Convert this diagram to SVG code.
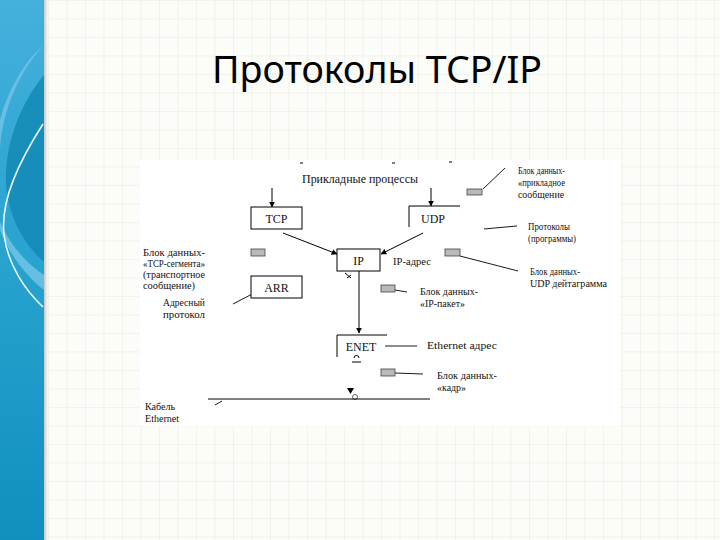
<svg xmlns="http://www.w3.org/2000/svg" width="720" height="540" viewBox="0 0 720 540">
<defs>
<pattern id="grid" x="48" y="0" width="18.5" height="18.5" patternUnits="userSpaceOnUse">
<path d="M0 0 H18.5 M0 0 V18.5" fill="none" stroke="#e9e9e2" stroke-width="1"/>
</pattern>
<linearGradient id="strip" x1="0" y1="0" x2="0" y2="1">
<stop offset="0" stop-color="#45b0dc"/>
<stop offset="0.5" stop-color="#27a2cf"/>
<stop offset="1" stop-color="#1190bd"/>
</linearGradient>
<linearGradient id="shadow" x1="0" y1="0" x2="1" y2="0">
<stop offset="0" stop-color="#9a9a9a" stop-opacity="0.8"/>
<stop offset="1" stop-color="#ffffff" stop-opacity="0"/>
</linearGradient>
<marker id="arr" viewBox="0 0 10 10" refX="9" refY="5" markerWidth="6" markerHeight="6" orient="auto" markerUnits="userSpaceOnUse">
<path d="M0 0 L10 5 L0 10 Z" fill="#000"/>
</marker>
<style>
.box{fill:#fff;stroke:#000;stroke-width:1}
.edge{fill:none;stroke:#000;stroke-width:1}
.lead{fill:none;stroke:#000;stroke-width:0.9}
.blk{fill:#b9b9b9;stroke:#444;stroke-width:0.8}
.t{font-family:"Liberation Serif","Times New Roman",serif;fill:#111}
.n{font-size:12px;text-anchor:middle}
.l{font-size:9.5px}
.title{font-family:"Noto Sans","Open Sans",sans-serif;font-size:38px;fill:#000;text-anchor:middle}
</style>
</defs>

<!-- slide background -->
<rect x="0" y="0" width="720" height="540" fill="#fcfcf8"/>
<rect x="48" y="0" width="672" height="540" fill="url(#grid)"/>
<rect x="43" y="0" width="7" height="540" fill="url(#shadow)"/>
<rect x="0" y="0" width="44" height="540" fill="url(#strip)"/>
<path d="M44 45 C20 70 2 110 0 150 L0 120 C8 90 25 60 44 45 Z" fill="#7cc8e8" opacity="0.7"/>
<path d="M44 75 C15 110 0 160 8 200 C15 230 30 250 44 262 Z" fill="#1389b5" opacity="0.85"/>
<path d="M0 230 C10 255 25 275 44 290 L44 275 C25 262 10 245 0 222 Z" fill="#8ed2ee" opacity="0.6"/>
<path d="M43 124 C20 160 0 200 4 235 C8 265 25 290 43 307" fill="none" stroke="#e8f8ff" stroke-width="1.6"/>

<text class="title" x="377" y="83" textLength="330" lengthAdjust="spacingAndGlyphs">Протоколы TCP/IP</text>

<!-- diagram area -->
<rect x="140" y="160" width="480" height="266" fill="#fff"/>

<g id="connectors">
<path class="edge" d="M300 163 h3 M392 163 h3 M449 162 h3"/>
<line class="edge" x1="272" y1="188" x2="272" y2="207" marker-end="url(#arr)"/>
<line class="edge" x1="431" y1="188" x2="431" y2="206" marker-end="url(#arr)"/>
<line class="edge" x1="283" y1="233" x2="337" y2="254" marker-end="url(#arr)"/>
<line class="edge" x1="423" y1="233" x2="381" y2="254" marker-end="url(#arr)"/>
<line class="edge" x1="359" y1="271" x2="359" y2="333" marker-end="url(#arr)"/>
<line class="lead" x1="258" y1="291" x2="233" y2="304"/>
<line class="lead" x1="483" y1="189" x2="505" y2="168"/>
<line class="lead" x1="484" y1="229" x2="517" y2="226"/>
<line class="lead" x1="460" y1="256" x2="518" y2="271"/>
<line class="lead" x1="395" y1="290" x2="407" y2="292"/>
<line class="lead" x1="385" y1="346" x2="417" y2="346"/>
<line class="lead" x1="395" y1="373" x2="423" y2="374"/>
<line class="edge" x1="208" y1="399" x2="430" y2="399"/>
<line class="lead" x1="215" y1="405" x2="222" y2="401"/>
</g>

<g id="app">
<text class="t" x="360" y="183" font-size="11.5" text-anchor="middle" textLength="116" lengthAdjust="spacingAndGlyphs">Прикладные процессы</text>
</g>

<g id="tcp">
<rect class="box" x="251" y="207" width="51" height="22"/>
<text class="t n" x="276.5" y="223">TCP</text>
</g>

<g id="udp">
<path class="edge" d="M409 227 V206 H460"/>
<text class="t n" x="433" y="223">UDP</text>
</g>

<g id="ip">
<rect class="box" x="337" y="249" width="43" height="22"/>
<text class="t n" x="358.5" y="265" font-size="11">IP</text>
<path class="edge" d="M345 273 l6 5 M347 278 l4 -3" stroke-width="0.7"/>
</g>

<g id="arr-box">
<rect class="box" x="251" y="276" width="51" height="22"/>
<text class="t n" x="276.5" y="292">ARR</text>
</g>

<g id="enet">
<path class="edge" d="M337 357 V335 H387"/>
<text class="t n" x="361" y="351">ENET</text>
<path class="edge" d="M354 358 a2.5 2.5 0 1 1 5 0 M352 362 h9" stroke-width="0.6"/>
</g>

<g id="cable">
<path d="M347 388 h7 l-3.5 6 Z" fill="#000"/>
<circle cx="355" cy="397" r="2.5" fill="none" stroke="#000" stroke-width="0.6"/>
<text class="t l" x="145" y="410" textLength="30" lengthAdjust="spacingAndGlyphs">Кабель</text>
<text class="t l" x="145" y="422" textLength="34" lengthAdjust="spacingAndGlyphs">Ethernet</text>
</g>

<g id="tcp-data">
<rect class="blk" x="251" y="249" width="14" height="7"/>
<text class="t l" x="143" y="256" textLength="62" lengthAdjust="spacingAndGlyphs">Блок данных-</text>
<text class="t l" x="143" y="267" textLength="62" lengthAdjust="spacingAndGlyphs">«TCP-сегмента»</text>
<text class="t l" x="143" y="278" textLength="62" lengthAdjust="spacingAndGlyphs" fill="#2a5a20">(транспортное</text>
<text class="t l" x="143" y="289" textLength="52" lengthAdjust="spacingAndGlyphs">сообщение)</text>
</g>

<g id="addr-proto">
<text class="t l" x="205" y="306" text-anchor="end" textLength="42" lengthAdjust="spacingAndGlyphs">Адресный</text>
<text class="t l" x="205" y="318" text-anchor="end" textLength="42" lengthAdjust="spacingAndGlyphs">протокол</text>
</g>

<g id="app-data">
<rect class="blk" x="467" y="189" width="15" height="6"/>
<text class="t l" x="518" y="174" textLength="47" lengthAdjust="spacingAndGlyphs">Блок данных-</text>
<text class="t l" x="518" y="186" textLength="47" lengthAdjust="spacingAndGlyphs">«прикладное</text>
<text class="t l" x="518" y="198" textLength="46" lengthAdjust="spacingAndGlyphs">сообщение</text>
</g>

<g id="protocols">
<text class="t l" x="528" y="230" textLength="42" lengthAdjust="spacingAndGlyphs">Протоколы</text>
<text class="t l" x="528" y="242" textLength="48" lengthAdjust="spacingAndGlyphs">(программы)</text>
</g>

<g id="udp-data">
<rect class="blk" x="445" y="249" width="15" height="7"/>
<text class="t l" x="530" y="275" textLength="50" lengthAdjust="spacingAndGlyphs">Блок данных-</text>
<text class="t l" x="530" y="287" textLength="77" lengthAdjust="spacingAndGlyphs">UDP дейтаграмма</text>
</g>

<g id="ip-addr">
<text class="t l" x="393" y="265" textLength="38" lengthAdjust="spacingAndGlyphs">IP-адрес</text>
</g>

<g id="ip-data">
<rect class="blk" x="381" y="285" width="14" height="7"/>
<text class="t l" x="420" y="295" textLength="58" lengthAdjust="spacingAndGlyphs">Блок данных-</text>
<text class="t l" x="420" y="307" textLength="45" lengthAdjust="spacingAndGlyphs">«IP-пакет»</text>
</g>

<g id="eth-addr">
<text class="t l" x="427" y="349" textLength="70" lengthAdjust="spacingAndGlyphs">Ethernet  адрес</text>
</g>

<g id="frame-data">
<rect class="blk" x="381" y="369" width="14" height="7"/>
<text class="t l" x="437" y="379" textLength="60" lengthAdjust="spacingAndGlyphs" fill="#6a3a10">Блок данных-</text>
<text class="t l" x="437" y="391" textLength="29" lengthAdjust="spacingAndGlyphs">«кадр»</text>
</g>
</svg>
